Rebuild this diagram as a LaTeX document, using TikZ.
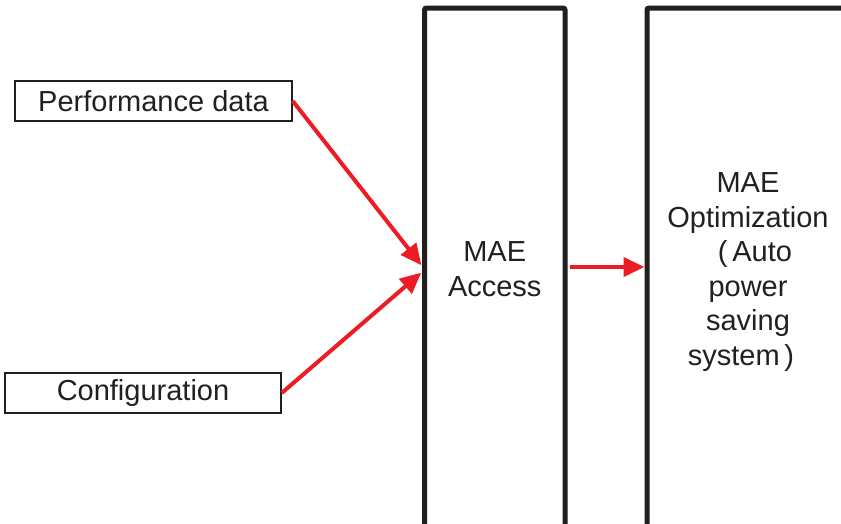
\documentclass[tikz,border=0pt]{standalone}
\usepackage{fontspec}
\setmainfont{Liberation Sans}
\usetikzlibrary{arrows.meta}
\definecolor{ink}{RGB}{35,31,32}
\definecolor{arrowred}{RGB}{237,28,36}
\begin{document}
\begin{tikzpicture}[x=1pt,y=-1pt,
    every node/.style={text=ink,font=\fontsize{29}{34.5}\selectfont},
    inbox/.style={draw=ink,line width=1.5pt,inner sep=0pt,minimum height=40pt},
    bigbox/.style={draw=ink,line width=5pt,rounded corners=2pt,inner sep=0pt,align=center},
    flow/.style={draw=arrowred,line width=4pt,-{Triangle[length=21pt,width=19pt]}}]
  \clip (0,0) rectangle (841,523);
  \draw
    (153.5,101) node[inbox,minimum width=277pt] (perf){Performance data}
    (143,393) node[inbox,minimum width=276pt] (conf){Configuration}
    (494.75,269) node[bigbox,minimum width=140.5pt,minimum height=522pt] (access){MAE\\Access}
    (748,272) node[bigbox,minimum width=202pt,minimum height=528pt] (opt){MAE\\Optimization\\\hspace*{14pt}(\,Auto\\power\\saving\\system\,)\hspace*{14pt}};
  \begin{scope}[flow]
    \draw[shorten >=1pt] (perf.east) to ([yshift=3pt]access.west);
    \draw[shorten >=1pt] (conf.east) to ([yshift=-3pt]access.west);
    \draw[shorten <=2.5pt,shorten >=0pt] ([yshift=2pt]access.east) to ([yshift=5pt]opt.west);
  \end{scope}
\end{tikzpicture}
\end{document}
